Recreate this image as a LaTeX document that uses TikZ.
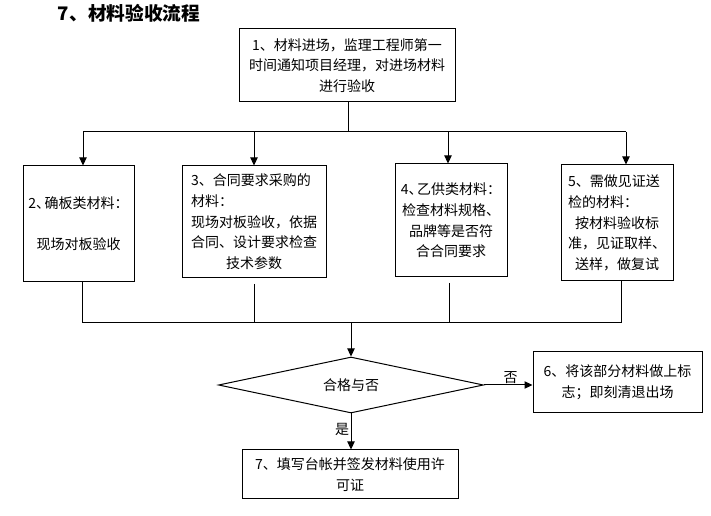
\documentclass[tikz,border=0pt]{standalone}
\usepackage{fontspec}
\setmainfont{Noto Sans CJK SC}
\usetikzlibrary{shapes.geometric,arrows.meta}
\begin{document}
\begin{tikzpicture}[x=0.75pt,y=-0.75pt,
  every node/.style={font=\fontsize{10.5}{15.5}\selectfont},
  box/.style={draw,line width=0.75pt,inner sep=0pt,align=center},
  conn/.style={line width=0.75pt},
  arr/.style={line width=0.75pt,-{Triangle[length=6pt,width=5.5pt]}},
  lbl/.style={inner sep=1pt}]
\useasboundingbox (0,0) rectangle (711,516);
\node (title) at (129,13) {\fontsize{14}{16}\selectfont\bfseries 7、材料验收流程};
\node[box,minimum width=216*0.75pt,minimum height=73*0.75pt] (b1) at (347,65.5)
  {1、材料进场，监理工程师第一\\时间通知项目经理，对进场材料\\进行验收};
\node[box,minimum width=111*0.75pt,minimum height=116*0.75pt] (b2) at (78.5,224)
  {2、\kern-4pt确板类材料：\\[15.5pt]现场对板验收};
\node[box,minimum width=144*0.75pt,minimum height=112*0.75pt] (b3) at (254,222)
  {\makebox[9em][l]{3、合同要求采购的}\\\makebox[9em][l]{材料：}\\现场对板验收，依据\\合同、设计要求检查\\技术参数};
\node[box,minimum width=112*0.75pt,minimum height=113*0.75pt] (b4) at (451,220.5)
  {4、\kern-4pt乙供类材料：\\检查材料规格、\\品牌等是否符\\合合同要求};
\node[box,minimum width=112*0.75pt,minimum height=116*0.75pt] (b5) at (617,223)
  {\makebox[7em][l]{5、需做见证送}\\\makebox[7em][l]{检的材料：}\\按材料验收标\\准，见证取样、\\送样，做复试};
\node[draw,line width=0.75pt,shape=diamond,aspect=4.7,inner sep=0pt,
  minimum width=265*0.75pt,minimum height=56*0.75pt] (d) at (351,385) {合格与否};
\node[box,minimum width=169*0.75pt,minimum height=61*0.75pt] (b6) at (617.5,382.5)
  {6、将该部分材料做上标\\志；即刻清退出场};
\node[box,minimum width=216*0.75pt,minimum height=49*0.75pt] (b7) at (350,474.5)
  {7、填写台帐并签发材料使用许\\可证};
% top distribution
\coordinate (j1) at (348,132);
\coordinate (t2) at (83,132);
\coordinate (t3) at (254,132);
\coordinate (t4) at (448,132);
\coordinate (t5) at (626,132);
\draw[conn] (b1.south -| j1) -- (j1);
\draw[conn] (t2) -- (t5);
\draw[arr] (t2) -- (t2 |- b2.north);
\draw[arr] (t3) -- (t3 |- b3.north);
\draw[arr] (t4) -- (t4 |- b4.north);
\draw[arr] (t5) -- (t5 |- b5.north);
% bottom collection
\coordinate (c2) at (82,323);
\coordinate (c3) at (254,323);
\coordinate (c4) at (449,323);
\coordinate (c5) at (621,323);
\coordinate (m) at (351,323);
\draw[conn] (c2 |- b2.south) -- (c2);
\draw[conn,shorten <=4pt] (c3 |- b3.south) -- (c3);
\draw[conn,shorten <=4pt] (c4 |- b4.south) -- (c4);
\draw[conn] (c5 |- b5.south) -- (c5);
\draw[conn] (c2) -- (c5);
\draw[arr] (m) -- (d.north);
% decision outputs
\draw[arr] (d.east) -- node[lbl,above,pos=0.55] {否} (b6.west |- d.east);
\draw[arr] (d.south) -- node[lbl,left,pos=0.45] {是} (b7.north -| d.south);
\end{tikzpicture}
\end{document}
